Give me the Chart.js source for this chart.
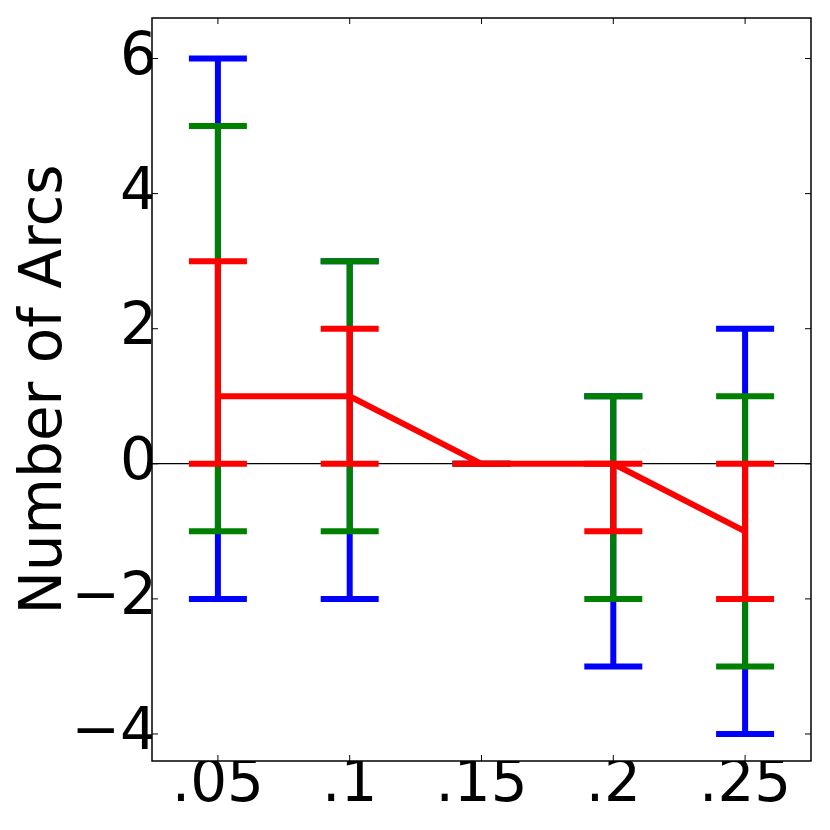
<!DOCTYPE html>
<html>
<head>
<meta charset="utf-8">
<script src="https://cdn.jsdelivr.net/npm/chart.js@4.4.0/dist/chart.umd.min.js"></script>
<style>
html, body { margin: 0; padding: 0; background: #fff; }
#wrap { width: 830px; height: 830px; }
</style>
</head>
<body>
<div id="wrap"><canvas id="chart"></canvas></div>
<script>
const categories = ['.05', '.1', '.15', '.2', '.25'];
const yTicks = [-4, -2, 0, 2, 4, 6];

// error bar ranges, drawn in this order (blue under green under red)
const blueLow = [-2, -2, 0, -3, -4];
const blueHigh = [6, 3, 0, 1, 2];
const greenLow = [-1, -1, 0, -2, -3];
const greenHigh = [5, 3, 0, 1, 1];
const redLow = [0, 0, 0, -1, -2];
const redHigh = [3, 2, 0, 0, 0];
const redMean = [1, 1, 0, 0, -1];

const bars = [
    { color: '#0000ff', low: blueLow, high: blueHigh },
    { color: '#008000', low: greenLow, high: greenHigh },
    { color: '#ff0000', low: redLow, high: redHigh }
];

const CAP = 29;      // half width of caps, px
const TICK = 6;      // inner tick mark length, px

// error bars, under the mean line
const errorBars = {
    id: 'errorBars',
    beforeDatasetsDraw(chart) {
        const { ctx, scales: { x, y } } = chart;
        ctx.save();
        ctx.lineWidth = 6;
        ctx.lineCap = 'butt';
        bars.forEach(b => {
            ctx.strokeStyle = b.color;
            b.low.forEach((lo, i) => {
                const px = x.getPixelForValue(i);
                const y0 = y.getPixelForValue(lo);
                const y1 = y.getPixelForValue(b.high[i]);
                ctx.beginPath();
                ctx.moveTo(px, y0); ctx.lineTo(px, y1);
                ctx.moveTo(px - CAP, y0); ctx.lineTo(px + CAP, y0);
                ctx.moveTo(px - CAP, y1); ctx.lineTo(px + CAP, y1);
                ctx.stroke();
            });
        });
        ctx.restore();
    }
};

// box frame and inward ticks on all four sides
const frame = {
    id: 'frame',
    afterDraw(chart) {
        const { ctx, chartArea: a, scales: { x, y } } = chart;
        ctx.save();
        ctx.strokeStyle = '#000';
        ctx.lineWidth = 1;
        ctx.beginPath();
        categories.forEach((c, i) => {
            const px = x.getPixelForValue(i);
            ctx.moveTo(px, a.bottom); ctx.lineTo(px, a.bottom - TICK);
            ctx.moveTo(px, a.top); ctx.lineTo(px, a.top + TICK);
        });
        yTicks.forEach(v => {
            const py = y.getPixelForValue(v);
            ctx.moveTo(a.left, py); ctx.lineTo(a.left + TICK, py);
            ctx.moveTo(a.right, py); ctx.lineTo(a.right - TICK, py);
        });
        ctx.stroke();
        ctx.lineWidth = 1.5;
        ctx.strokeRect(a.left, a.top, a.right - a.left, a.bottom - a.top);
        ctx.restore();
    }
};

Chart.defaults.font.family = "'DejaVu Sans', sans-serif";
Chart.defaults.color = '#000';

new Chart(document.getElementById('chart'), {
    type: 'line',
    data: {
        labels: categories,
        datasets: [{
            data: redMean,
            borderColor: '#ff0000',
            borderWidth: 6,
            pointRadius: 0,
            tension: 0,
            fill: false
        }]
    },
    options: {
        responsive: true,
        maintainAspectRatio: false,
        animation: false,
        devicePixelRatio: 1,
        layout: { padding: { top: 18, right: 19, left: 0, bottom: 0 } },
        plugins: { legend: { display: false }, tooltip: { enabled: false } },
        scales: {
            x: {
                type: 'category',
                offset: true,
                grid: { display: false },
                border: { display: false },
                ticks: { font: { size: 58 }, maxRotation: 0, autoSkip: false, padding: -18 },
                afterFit: s => { s.height = 69; s.paddingLeft = 0; s.paddingRight = 0; }
            },
            y: {
                min: -4.4,
                max: 6.6,
                afterBuildTicks: s => { s.ticks = yTicks.map(v => ({ value: v })); },
                grid: {
                    drawTicks: false,
                    lineWidth: 1.2,
                    color: c => (c.tick && c.tick.value === 0) ? '#000' : 'rgba(0,0,0,0)'
                },
                border: { display: false },
                ticks: {
                    font: { size: 58 },
                    padding: -5,
                    callback: v => v < 0 ? '\u2212' + Math.abs(v) : String(v)
                },
                title: {
                    display: true,
                    text: 'Number of Arcs',
                    font: { size: 58, lineHeight: 1.2 },
                    padding: { top: 11, bottom: 0 }
                },
                afterFit: s => { s.width = 152; s.paddingTop = 0; s.paddingBottom = 0; }
            }
        }
    },
    plugins: [errorBars, frame]
});
</script>
</body>
</html>
